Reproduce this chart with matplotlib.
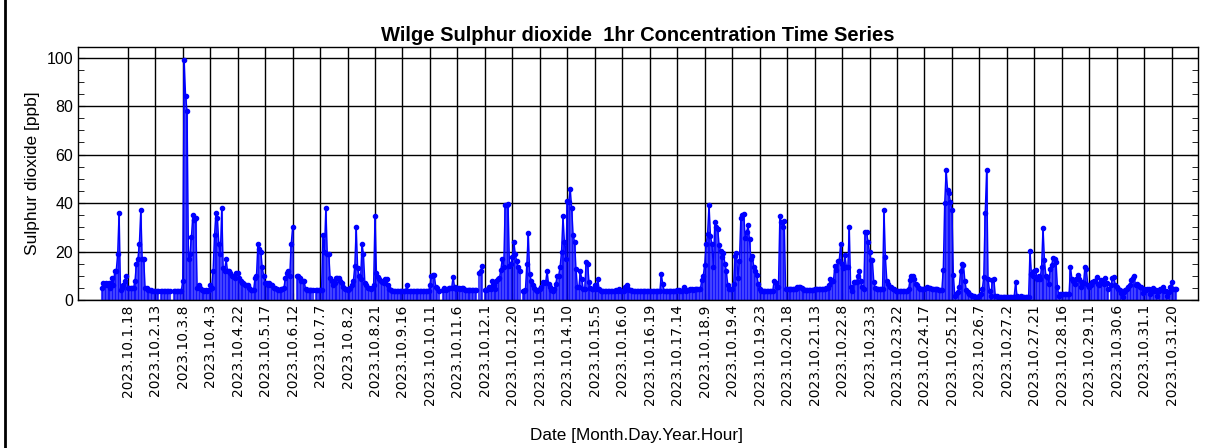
import numpy as np
import pandas as pd
import matplotlib
matplotlib.use("Agg")
import matplotlib.pyplot as plt
from matplotlib.lines import Line2D
from matplotlib.ticker import MultipleLocator

nan = np.nan

# hourly SO2 [ppb], one list per day of October 2023 (nan = no data)
oct01 = [5, 7, 6, 7, 6, 7, 5, 9, 6, 12, 12, 19, 36, 4, 5, 6, 8, 10, 5, 5, 5, 5, 5, 8]
oct02 = [15, 17, 23, 37, 17, 17, 5, 5, 4, 4, 4, 3.7, 3.7, 3.7, 3.7, 3.7, nan, 3.7, 3.7, 3.7, 3.7, 3.7, 3.7, 3.7]
oct03 = [nan, nan, 3.7, 3.7, 3.7, 3.7, 3.7, 3.7, 8, 99, 84, 78, 17, 19, 26, 35, 33, 34, 5, 6, 5, 4, 4, 3.7]
oct04 = [4, 3.7, 4, 6, 5, 12, 27, 36, 34, 23, 19, 38, 13, 12, 17, 12, 12, 11, 10, 10, 9, 11, 11, 9]
oct05 = [8, 7, 7, 6, 6, 6, 5, 4, 4, 4, 9, 10, 23, 21, 20, 13.5, 10, 7, 7, 6, 7, 6, 6, 5]
oct06 = [5, 4.5, 4, 4, 4.5, 4.5, 5, 9, 11, 12, 10, 23, 30, nan, nan, 10, 10, 9, 8, 8, 7.7, 4.5, 4, 4]
oct07 = [4, 4, 4, nan, 4, 4, 4, 4, 4, 27, 20, 38, 19, 19, 9, 8, 6, 7, 9, 9, 9, 8, 7, 5.5]
oct08 = [4.5, 4.5, 4, 4.5, 5, 6.3, 7.7, 14, 30, 13, 10, 8.7, 23, 19, 7, 6, 5, 5, 4.5, 5, 6, 34.5, 11, 9.6]
oct09 = [8.7, 7.7, 7.3, 7, 8.7, 8.7, 6, 4.5, 4, 3.7, 3.7, 3.7, 3.7, 3.7, 3.7, 3.7, 3.7, 3.7, 3.7, 6, 3.7, 3.7, 3.7, 3.7]
oct10 = [3.7, 3.7, 3.7, 3.7, 3.7, 3.7, 3.7, 3.7, 3.7, 3.7, 3.7, 6, 10, 10.3, 10.3, 5.5, 5, 3.8, nan, nan, 4, 5, 4, 4.5]
oct11 = [5, 5, 5, 9.6, 5.5, 4.5, 5, 5, 4.5, 5, 5, 4, 4, 4, 4, 4, 4, 4, 4, 4, nan, 11, 12, 14]
oct12 = [nan, 4, 4, 4.5, 5.5, 4.5, 7.7, 6, 4.5, 7.7, 8.7, 9, 12.4, 17, 13.5, 39, 39, 39.7, 14, 15, 17.6, 24, 19, 16]
oct13 = [13.5, 12, nan, 3.6, 3.8, 4, 15, 27.6, 10.8, 8, 6, 5, 4, 3.6, 4, 4.5, 5.5, 7.3, 7, 7.3, 12, 6.6, 5.5, 4]
oct14 = [3.8, 4.5, 6.6, 10, 10, 13.8, 20, 34.5, 24, 17, 40.8, 40.4, 46, 38, 27, 24, 12.8, 5.2, 5.2, 12, 8.7, 4.5, 4.5, 15.6]
oct15 = [15, 7.3, 5, 4.5, 4.5, 6, 4.5, 8.7, 4.5, 3.6, 3.6, 3.6, 3.6, 3.6, 3.6, 3.6, 3.6, 3.6, 3.6, 3.6, 4, 3.6, 4.5, 3.6]
oct16 = [3.6, 3.6, 5.5, 6.3, 4.5, 4, 4, 3.6, 3.6, 3.6, 3.6, 3.6, 3.6, 3.6, 3.6, 3.6, 3.6, 3.6, 3.6, 3.6, 3.6, 3.6, 3.6, 3.6]
oct17 = [3.6, 3.6, 3.6, 10.8, 6.6, 3.6, 3.6, 3.6, 3.6, 3.6, 3.6, 3.6, 3.6, 3.6, 4, 4, 3.6, 3.6, 4, 5.2, 3.8, 4, 4, 4.5]
oct18 = [4.5, 4, 4.5, 4.5, 4.5, 4.5, 4.5, 8.3, 10, 14.6, 23, 27.3, 39.3, 26.6, 23, 13.5, 32, 30, 29.4, 22.5, 20.4, 17.6, 19.3, 15]
oct19 = [12, 6, 4.5, 4.5, 4.5, 6.6, 18.3, 19.3, 9, 16, 34, 35, 35.6, 25.6, 28, 30.8, 25, 17, 18.3, 13.5, 12, 10.5, 6.6, 4.5]
oct20 = [3.6, 3.6, 3.6, 3.6, 3.6, 3.6, 3.6, 3.6, 3.6, 7.7, 7, 5.5, 5.5, 34.5, 32, 30, 32.5, 4.5, 4.5, 4.5, 4.5, 4.5, 4.5, 4.5]
oct21 = [4.5, 5.5, 5.5, 5.5, 5, 4.5, 4.3, 4.3, 4.3, 4.3, 4.3, 4.3, 4.3, 4.5, 4.5, 4.5, 4.5, 4.5, 4.5, 4.5, 4.5, 5, 5, 6.3]
oct22 = [8.7, 7.7, 7.7, 14, 12.4, 16, 16, 23, 15, 13, 18.7, 13.5, 13.5, 30, 5.2, 3.6, 7.3, 7.3, 7.3, 10, 12, 8, 5.2, 4.5]
oct23 = [28, 28, 24, 19.7, 16.5, 16.3, 7.3, 5, 4.5, 4.5, 4.5, 4.5, 4.5, 37.2, 17.6, 8, 6.6, 5.5, 5.2, 4.5, 4.5, 3.9, 3.9, 3.9]
oct24 = [3.9, 3.9, 3.9, 3.9, 3.9, 3.9, 4.5, 8.3, 10, 10, 8.7, 6.6, 6, 5, 4.5, 4.5, 4.5, 4.5, 5, 5.5, 5, 5, 4.5, 4.5]
oct25 = [4.5, 4.5, 4.5, 4, 4, 4, 12.4, 40, 53.5, 45.5, 44, 40.4, 37.2, 10.5, 1.8, 2.5, 3.2, 5.5, 11.9, 15, 14.6, 7.7, 4, 3.2]
oct26 = [2.5, 2, 1.8, 1.5, 1.4, 1.2, 1.1, 1.5, 2.5, 4.5, 9.6, 35.8, 53.5, 8.7, 3.9, 1.8, 8.3, 8.7, 1.8, 1.5, 1.1, 1.1, 1.1, 1.1]
oct27 = [1.1, 1.1, 1.1, 1.1, 1.1, 1.1, 1.1, 1.1, 7.3, 1.8, 1.1, 1.1, 1.5, 1.4, 1.4, 1.4, 1.4, 1.4, 20.4, 10.8, 10, 12, 12.4, 8.7]
oct28 = [10, 8.7, 13.8, 29.8, 16.5, 10, 9.6, 6.6, 12.8, 14.6, 17.4, 17, 15.6, 5.2, 1.8, 2.5, 2.5, 2.5, 2.5, 2.5, 2.5, 2.5, 13.8, 8.7]
oct29 = [8, 6.6, 8.7, 10.5, 8.7, 5.5, 7.3, 7, 13.8, 12.8, 6, 5.5, 6.3, 7.3, 7.7, 8, 9.6, 6.6, 6, 8.3, 7.3, 6.6, 9, 7]
oct30 = [4.5, nan, 6, 9, 9.6, 6, 5.2, 4.5, 4, 2.8, 1.4, 3.2, 4, 4.5, 5.2, 6.3, 8.3, 9, 10, 6, 6.6, 6.3, 5.5, 5.2]
oct31 = [2.8, 4.5, 4, 4.5, 4.5, 2.5, 4, 5, 3.6, 4, 1.8, 3.6, 4.5, 4.5, 5.2, 3.8, 3.6, 1.8, 3.2, 5.5, 7.3, 4.5, 4.5, 4.5]

days = [oct01, oct02, oct03, oct04, oct05, oct06, oct07, oct08, oct09, oct10,
        oct11, oct12, oct13, oct14, oct15, oct16, oct17, oct18, oct19, oct20,
        oct21, oct22, oct23, oct24, oct25, oct26, oct27, oct28, oct29, oct30, oct31]
so2 = np.array([v for d in days for v in d], dtype=float)
hours = np.arange(len(so2))
times = pd.date_range("2023-10-01 00:00", periods=len(so2), freq="h")

# a label every 19 hours, first one at 1 Oct 18h
tick_idx = np.arange(18, len(so2), 19)
tick_labels = [f"{t.year}.{t.month}.{t.day}.{t.hour}" for t in times[tick_idx]]

fig = plt.figure(figsize=(12.08, 4.48), dpi=100)
ax = fig.add_axes([0.0646, 0.3304, 0.9269, 0.5647])

ax.vlines(hours, 0, so2, color="blue", alpha=0.72, lw=1.5)
ax.plot(hours, so2, color="blue", lw=1, marker="o", ms=3)

ax.set_xlim(-16.4, 758)
ax.set_ylim(0, 104.4)
ax.set_xticks(tick_idx)
ax.set_xticklabels(tick_labels, rotation=90, fontsize=10, family="DejaVu Sans")
ax.yaxis.set_major_locator(MultipleLocator(20))
ax.yaxis.set_minor_locator(MultipleLocator(5))
for lab in ax.get_yticklabels():
    lab.set_family("Liberation Sans")
    lab.set_fontsize(11.5)
ax.tick_params(which="both", direction="in", right=True, colors="black")
ax.tick_params(which="major", length=5)
ax.tick_params(which="minor", length=4)
ax.tick_params(axis="x", pad=3)

ax.set_axisbelow(True)
ax.grid(True, which="major", color="black", lw=1)
for s in ax.spines.values():
    s.set_color("black")
    s.set_linewidth(1)

ax.set_title("Wilge Sulphur dioxide  1hr Concentration Time Series",
             fontsize=14.5, fontweight="bold", family="Liberation Sans", pad=4)
ax.set_ylabel("Sulphur dioxide [ppb]", fontsize=12.5, family="Liberation Sans", labelpad=5)
fig.text(0.527, 0.027, "Date [Month.Day.Year.Hour]", ha="center", va="center",
         fontsize=12.3, family="Liberation Sans")

# frame line on the left edge of the picture
fig.add_artist(Line2D([5 / 1208, 5 / 1208], [0, 1], color="black", lw=2))

fig.savefig("out.png", dpi=100)
